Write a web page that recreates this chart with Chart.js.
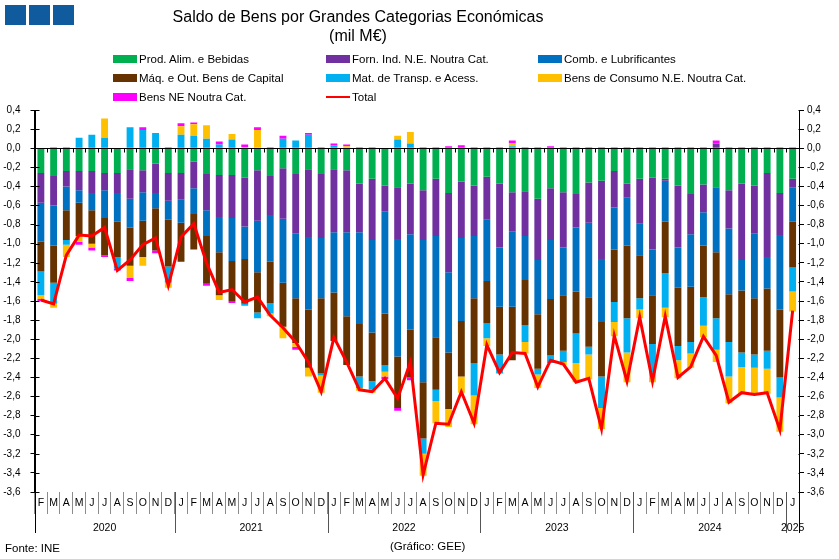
<!DOCTYPE html>
<html lang="pt">
<head>
<meta charset="utf-8">
<title>Saldo de Bens por Grandes Categorias Económicas</title>
<script src="https://cdn.jsdelivr.net/npm/chart.js@4.4.1/dist/chart.umd.min.js"></script>
<style>
  body { margin: 0; background: #fff; font-family: "Liberation Sans", Arial, sans-serif; color: #000; }
  #wrap { position: relative; width: 839px; height: 559px; overflow: hidden; }
  #chart { position: absolute; left: 0; top: 0; }
  .logo { position: absolute; top: 5px; width: 21px; height: 20px; background: #0f5b9d; }
  #title { position: absolute; left: 158px; width: 400px; top: 7px; text-align: center; font-size: 16px; line-height: 19px; }
  .leg { position: absolute; font-size: 11.5px; white-space: nowrap; height: 14px; line-height: 14px; }
  .leg .sw { position: absolute; left: 0; width: 24px; }
  .leg .t { position: absolute; left: 26px; top: 0; }
  #fonte { position: absolute; left: 5px; top: 541px; font-size: 11.5px; line-height: 14px; }
  #credit { position: absolute; left: 390px; top: 539px; font-size: 11.5px; line-height: 14px; }
</style>
</head>
<body>
<div id="wrap">
  <canvas id="chart" width="839" height="559"></canvas>
  <div class="logo" style="left:5px"></div>
  <div class="logo" style="left:29px"></div>
  <div class="logo" style="left:53px"></div>
  <div id="title">Saldo de Bens por Grandes Categorias Económicas<br>(mil M€)</div>
  <div id="legend"></div>
  <div id="fonte">Fonte: INE</div>
  <div id="credit">(Gráfico: GEE)</div>
</div>
<script>
// meses (fev 2020 - jan 2025)
const categories = [
  'F','M','A','M','J','J','A','S','O','N','D',
  'J','F','M','A','M','J','J','A','S','O','N','D',
  'J','F','M','A','M','J','J','A','S','O','N','D',
  'J','F','M','A','M','J','J','A','S','O','N','D',
  'J','F','M','A','M','J','J','A','S','O','N','D',
  'J'
];
const yearLabels = ['2020', '2021', '2022', '2023', '2024', '2025'];
const monthsPerYear = [11, 12, 12, 12, 12, 1];

// eixo y (mil M€)
const yMin = -3.6;
const yMax = 0.4;
const yStep = 0.2;

// valores
const prodAlim = [
  -0.26,-0.29,-0.24,-0.24,-0.24,-0.26,-0.26,-0.22,-0.23,-0.16,-0.26,
  -0.26,-0.14,-0.27,-0.28,-0.28,-0.31,-0.23,-0.29,-0.21,-0.27,-0.22,-0.27,
  -0.22,-0.23,-0.37,-0.32,-0.39,-0.41,-0.37,-0.44,-0.32,-0.47,-0.35,-0.39,
  -0.30,-0.37,-0.46,-0.45,-0.53,-0.42,-0.46,-0.48,-0.36,-0.34,-0.24,-0.37,
  -0.32,-0.31,-0.32,-0.39,-0.48,-0.38,-0.41,-0.44,-0.37,-0.39,-0.26,-0.47,
  -0.32
];
const fornInd = [
  -0.31,-0.31,-0.16,-0.20,-0.23,-0.18,-0.21,-0.31,-0.23,-0.31,-0.29,
  -0.28,-0.28,-0.38,-0.44,-0.45,-0.51,-0.53,-0.41,-0.53,-0.62,-0.71,-0.67,
  -0.66,-0.65,-0.51,-0.64,-0.27,-0.54,-0.53,-0.52,-0.60,-0.83,-0.59,-0.53,
  -0.45,-0.67,-0.41,-0.47,-0.64,-0.54,-0.58,-0.35,-0.42,-0.82,-0.38,-0.15,
  -0.47,-0.75,-0.02,-0.65,-0.42,-0.29,0.05,-0.40,-0.80,-0.50,-0.88,-0.44,
  -0.09
];
const combLubr = [
  -0.41,-0.42,-0.25,-0.13,-0.18,-0.29,-0.30,-0.30,-0.30,-0.16,-0.20,
  -0.24,-0.27,-0.27,-0.37,-0.45,-0.34,-0.54,-0.49,-0.67,-0.68,-0.76,-0.63,
  -0.63,-0.88,-0.96,-0.97,-1.07,-1.23,-1.00,-1.49,-1.06,-0.84,-0.87,-0.65,
  -0.64,-0.62,-0.79,-0.46,-0.57,-0.62,-0.50,-0.67,-0.78,-0.66,-0.44,-0.50,
  -0.33,-0.48,-0.43,-0.42,-0.55,-0.35,-0.68,-0.69,-0.32,-0.68,-0.33,-0.78,
  -0.36
];
const maqCapital = [
  -0.31,-0.39,-0.31,-0.35,-0.35,-0.39,-0.37,-0.40,-0.38,-0.44,-0.49,
  -0.41,-0.37,-0.50,-0.45,-0.42,-0.47,-0.42,-0.43,-0.46,-0.47,-0.61,-0.79,
  -0.51,-0.51,-0.55,-0.51,-0.54,-0.54,-0.50,-0.59,-0.55,-0.59,-0.58,-0.68,
  -0.44,-0.50,-0.56,-0.47,-0.57,-0.59,-0.58,-0.44,-0.52,-0.57,-0.55,-0.76,
  -0.45,-0.51,-0.54,-0.61,-0.58,-0.54,-0.69,-0.50,-0.65,-0.59,-0.65,-0.71,
  -0.48
];
const matTransp = [
  -0.25,-0.22,-0.05,0.11,0.14,0.11,-0.12,0.22,0.19,0.16,-0.17,
  0.14,0.13,0.10,0.04,0.09,-0.02,-0.06,-0.11,0.10,0.08,0.14,-0.02,
  0.03,0.00,-0.12,-0.09,-0.07,0.09,0.05,-0.16,-0.12,0.00,0.00,-0.34,
  -0.16,-0.20,0.02,-0.18,-0.06,-0.08,-0.12,-0.31,-0.08,-0.33,-0.21,-0.36,
  -0.12,-0.30,-0.36,-0.15,-0.12,-0.30,-0.33,-0.36,-0.15,-0.14,-0.19,-0.21,
  -0.25
];
const bensConsumo = [
  -0.04,-0.04,-0.13,-0.06,-0.04,0.20,0.00,-0.13,-0.09,0.00,-0.05,
  0.09,0.12,0.14,-0.05,0.06,0.01,0.19,-0.03,-0.12,-0.04,-0.09,-0.18,
  0.00,0.02,-0.03,-0.03,-0.05,0.04,0.12,-0.23,-0.23,-0.19,-0.17,-0.30,
  -0.08,0.00,0.03,-0.12,-0.14,0.00,-0.03,-0.20,-0.26,-0.22,-0.15,-0.31,
  -0.09,-0.10,-0.10,-0.19,-0.15,-0.12,-0.13,-0.28,-0.28,-0.28,-0.26,-0.36,
  -0.21
];
const bensNE = [
  -0.02,0.01,0.01,-0.03,-0.03,-0.02,-0.02,-0.03,0.03,-0.03,0.01,
  0.03,0.02,-0.02,0.03,-0.02,0.03,0.03,0.01,0.03,-0.03,0.02,0.01,
  0.02,0.02,0.01,0.01,-0.03,-0.03,-0.03,0.01,0.01,0.02,0.03,0.01,
  0.01,0.01,0.03,0.01,0.01,0.02,0.01,0.01,0.01,0.01,0.01,0.01,
  0.01,0.01,0.01,0.01,0.01,0.01,0.03,0.01,0.01,0.01,0.01,0.01,
  0.01
];
const total = [
  -1.59,-1.63,-1.12,-0.91,-0.92,-0.83,-1.28,-1.17,-1.01,-0.94,-1.44,
  -0.93,-0.79,-1.20,-1.51,-1.48,-1.61,-1.56,-1.75,-1.88,-2.03,-2.24,-2.55,
  -1.98,-2.24,-2.53,-2.55,-2.41,-2.62,-2.24,-3.42,-2.88,-2.89,-2.55,-2.88,
  -2.06,-2.35,-2.14,-2.15,-2.50,-2.22,-2.26,-2.45,-2.41,-2.94,-1.96,-2.44,
  -1.77,-2.44,-1.76,-2.40,-2.29,-1.97,-2.17,-2.66,-2.56,-2.58,-2.56,-2.95,
  -1.70
];

const barSeries = [
  { label: 'Prod. Alim. e Bebidas', data: prodAlim, color: '#00b050' },
  { label: 'Forn. Ind. N.E. Noutra Cat.', data: fornInd, color: '#7030a0' },
  { label: 'Comb. e Lubrificantes', data: combLubr, color: '#0070c0' },
  { label: 'Máq. e Out. Bens de Capital', data: maqCapital, color: '#663300' },
  { label: 'Mat. de Transp. e Acess.', data: matTransp, color: '#00b0f0' },
  { label: 'Bens de Consumo N.E. Noutra Cat.', data: bensConsumo, color: '#ffc000' },
  { label: 'Bens NE Noutra Cat.', data: bensNE, color: '#ff00ff' }
];

const datasets = barSeries.map(s => ({
  type: 'bar',
  label: s.label,
  data: s.data,
  backgroundColor: s.color,
  stack: 'saldo',
  barPercentage: 0.54,
  categoryPercentage: 1,
  order: 1
}));
datasets.push({
  type: 'line',
  label: 'Total',
  data: total,
  borderColor: '#ff0000',
  backgroundColor: '#ff0000',
  borderWidth: 3,
  pointRadius: 0,
  tension: 0,
  stack: 'total',
  order: 0
});

// legenda em grelha (3 colunas)
const legendCols = [113, 326, 538];
const legendRows = [59, 78, 97];
const legendEl = document.getElementById('legend');
datasets.forEach((ds, i) => {
  const item = document.createElement('div');
  item.className = 'leg';
  item.style.left = legendCols[i % 3] + 'px';
  item.style.top = (legendRows[Math.floor(i / 3)] - 7) + 'px';
  const sw = document.createElement('div');
  sw.className = 'sw';
  sw.style.background = ds.borderColor || ds.backgroundColor;
  if (ds.type === 'line') { sw.style.height = '2px'; sw.style.top = '6px'; }
  else { sw.style.height = '8px'; sw.style.top = '3px'; }
  const t = document.createElement('span');
  t.className = 't';
  t.textContent = ds.label;
  item.appendChild(sw);
  item.appendChild(t);
  legendEl.appendChild(item);
});

const fmt = v => v.toFixed(1).replace('-0.0', '0.0').replace('.', ',');

// linha do zero, eixos prolongados e anos
const decor = {
  id: 'decor',
  afterDatasetsDraw(chart) {
    const { ctx, chartArea: a, scales: { x, y } } = chart;
    const y0 = Math.round(y.getPixelForValue(0)) + 0.5;
    const half = (x.getPixelForValue(1) - x.getPixelForValue(0)) / 2;
    ctx.save();
    ctx.strokeStyle = '#000';
    ctx.lineWidth = 1;
    ctx.beginPath();
    ctx.moveTo(a.left, y0);
    ctx.lineTo(a.right, y0);
    for (let i = 0; i <= categories.length; i++) {
      const px = Math.round(x.getPixelForValue(i) - half) + 0.5;
      ctx.moveTo(px, y0);
      ctx.lineTo(px, y0 + 4);
    }
    ctx.stroke();
    ctx.restore();
  },
  afterDraw(chart) {
    const { ctx, chartArea: a, scales: { x, y } } = chart;
    const half = (x.getPixelForValue(1) - x.getPixelForValue(0)) / 2;
    const bottom = 533;
    ctx.save();
    ctx.strokeStyle = '#000';
    ctx.lineWidth = 1;
    ctx.beginPath();
    const lx = Math.round(a.left) + 0.5;
    const rx = Math.round(a.right) + 0.5;
    ctx.moveTo(lx, a.top);
    ctx.lineTo(lx, bottom);
    ctx.moveTo(rx, a.top);
    ctx.lineTo(rx, bottom);
    // marcas interiores dos eixos y
    for (let v = yMin; v <= yMax + 1e-9; v += yStep) {
      const py = Math.round(y.getPixelForValue(v)) + 0.5;
      ctx.moveTo(lx, py);
      ctx.lineTo(lx + 4, py);
      ctx.moveTo(rx, py);
      ctx.lineTo(rx - 1, py);
    }
    ctx.stroke();

    // separadores de ano e rótulos
    ctx.strokeStyle = '#555';
    ctx.fillStyle = '#000';
    ctx.font = '10.5px "Liberation Sans", Arial, sans-serif';
    ctx.textAlign = 'center';
    ctx.textBaseline = 'middle';
    let start = 0;
    yearLabels.forEach((yr, k) => {
      const end = start + monthsPerYear[k] - 1;
      const left = x.getPixelForValue(start) - half;
      const right = x.getPixelForValue(end) + half;
      if (k > 0) {
        const px = Math.round(left) + 0.5;
        ctx.beginPath();
        ctx.moveTo(px, a.bottom);
        ctx.lineTo(px, bottom);
        ctx.stroke();
      }
      ctx.fillText(yr, (left + right) / 2, 528);
      start = end + 1;
    });
    ctx.restore();
  }
};

const ctx = document.getElementById('chart').getContext('2d');
const chart = new Chart(ctx, {
  data: { labels: categories, datasets: datasets },
  plugins: [decor],
  options: {
    responsive: false,
    animation: false,
    layout: { padding: { top: 110, left: 0, right: 0, bottom: 0 } },
    plugins: {
      legend: { display: false },
      title: { display: false },
      tooltip: { enabled: false }
    },
    scales: {
      x: {
        stacked: true,
        offset: true,
        border: { display: false },
        grid: {
          offset: true,
          drawOnChartArea: false,
          drawTicks: true,
          tickLength: 22,
          color: '#8c8c8c'
        },
        ticks: {
          autoSkip: false,
          maxRotation: 0,
          padding: -17,
          color: '#000',
          font: { family: '"Liberation Sans", Arial, sans-serif', size: 10.5 }
        },
        afterFit: s => { s.height = 67; }
      },
      y: {
        stacked: true,
        position: 'left',
        min: yMin,
        max: yMax,
        border: { display: true, color: '#000' },
        grid: { drawOnChartArea: false, tickLength: 4, tickColor: '#000' },
        ticks: {
          stepSize: yStep,
          padding: 10,
          color: '#000',
          font: { family: '"Liberation Sans", Arial, sans-serif', size: 10 },
          callback: v => fmt(v)
        },
        afterFit: s => { s.width = 34.5; }
      },
      y2: {
        position: 'right',
        min: yMin,
        max: yMax,
        border: { display: true, color: '#000' },
        grid: { drawOnChartArea: false, tickLength: 5, tickColor: '#000' },
        ticks: {
          stepSize: yStep,
          padding: 3,
          color: '#000',
          font: { family: '"Liberation Sans", Arial, sans-serif', size: 10 },
          callback: v => fmt(v)
        },
        afterFit: s => { s.width = 40; }
      }
    }
  }
});
</script>
</body>
</html>
